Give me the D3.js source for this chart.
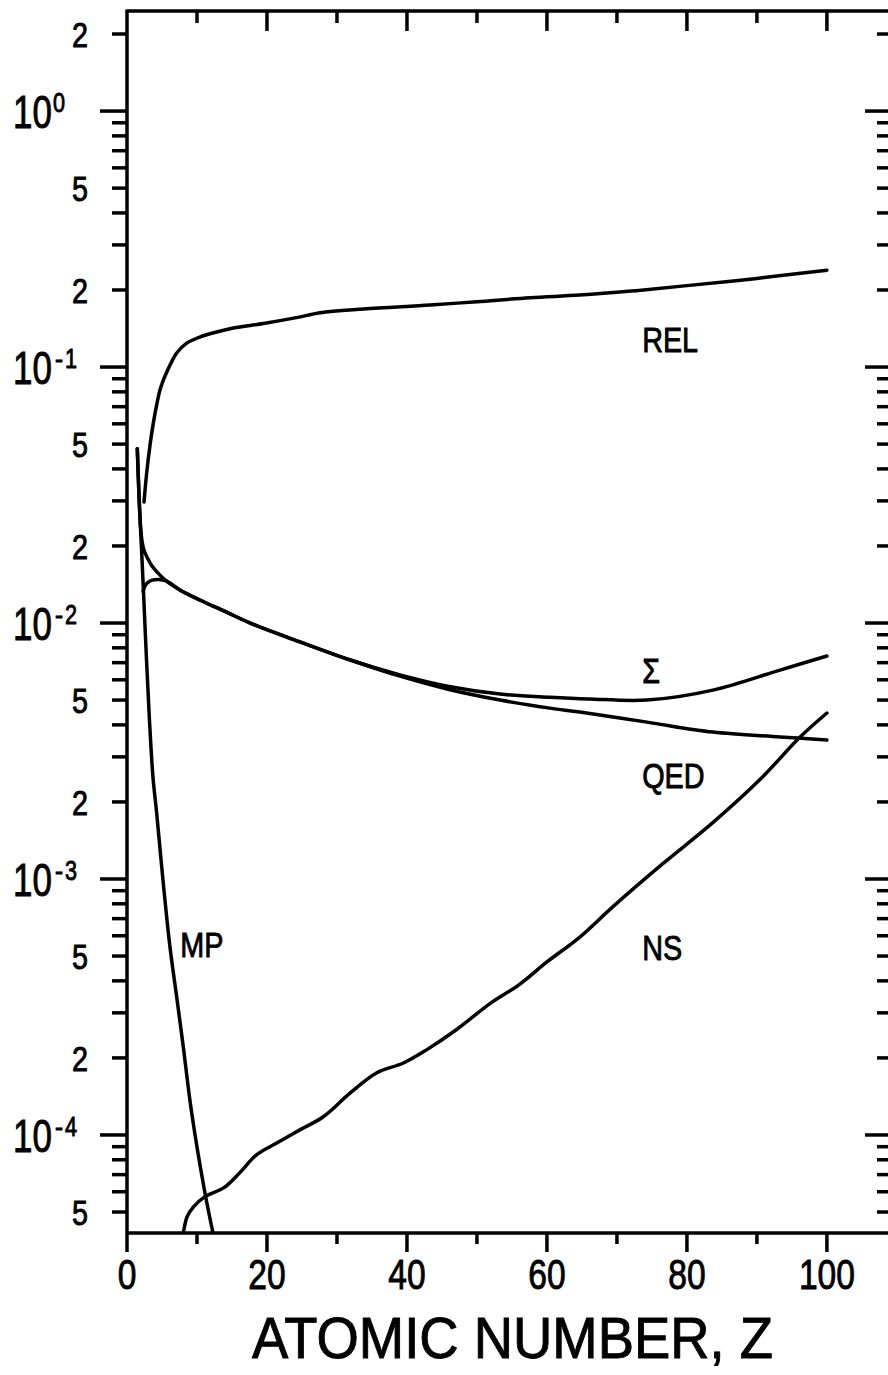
<!DOCTYPE html>
<html>
<head>
<meta charset="utf-8">
<script src="https://cdn.jsdelivr.net/npm/d3@7/dist/d3.min.js"></script>
<style>
  html, body { margin: 0; padding: 0; background: #fff; }
  svg { display: block; }
  text { font-family: "Liberation Sans", Arial, sans-serif; fill: #000; }
</style>
</head>
<body>
<div id="chart"></div>
<script>
// ---------------- data ----------------
const relZ = [2.43, 2.81, 3.29, 3.76, 4.29, 4.71, 5.19, 5.67, 6.43, 7.1, 8.53, 10.4, 12.8, 15.2, 19.5, 24.2, 27.6, 33.8, 43.3, 50, 57.6, 64.7, 72, 80, 90, 100];
const relV = [0.0297, 0.0385, 0.0496, 0.0604, 0.0723, 0.0813, 0.0889, 0.0955, 0.1055, 0.1135, 0.124, 0.131, 0.137, 0.142, 0.148, 0.156, 0.163, 0.1685, 0.1747, 0.180, 0.1866, 0.191, 0.198, 0.208, 0.222, 0.239];

const sigZ = [1.47, 1.76, 1.95, 2.2, 2.5, 2.9, 3.5, 4.3, 5.6, 7.5, 10.4, 14, 17.6, 24.7, 31.9, 39, 46, 53.3, 60.4, 66, 74.3, 83.7, 93.3, 100];
const sigV = [0.048, 0.0294, 0.0235, 0.0205, 0.0190, 0.0180, 0.0168, 0.0158, 0.0146, 0.0135, 0.0123, 0.0111, 0.0100, 0.00844, 0.00717, 0.00627, 0.00565, 0.00528, 0.00513, 0.00505, 0.0050, 0.00547, 0.00655, 0.00743];

const qedZ = [2.3, 2.6, 3.0, 3.6, 4.5, 5.6, 7.5, 10.4, 14, 17.6, 24.7, 31.9, 39, 46, 53.3, 60.4, 64.7, 74.3, 83.7, 93.3, 100];
const qedV = [0.0133, 0.0140, 0.0144, 0.0147, 0.0148, 0.0146, 0.0135, 0.0123, 0.0111, 0.0100, 0.00844, 0.00717, 0.0062, 0.0055, 0.0050, 0.00465, 0.00449, 0.0041, 0.00375, 0.00359, 0.00349];

const nsZ = [8.05, 8.6, 9.5, 11.1, 13.8, 16.1, 18.5, 21.4, 24.7, 28, 31.9, 35.7, 39.5, 42.8, 47, 52, 56, 60, 64.7, 69.4, 76.6, 83.7, 90.4, 96.1, 100];
const nsV = [4.14e-5, 4.8e-5, 5.24e-5, 5.73e-5, 6.21e-5, 7.11e-5, 8.36e-5, 9.3e-5, 1.047e-4, 1.175e-4, 1.46e-4, 1.75e-4, 1.91e-4, 2.15e-4, 2.57e-4, 3.28e-4, 3.86e-4, 4.74e-4, 5.93e-4, 7.78e-4, 1.15e-3, 1.66e-3, 2.44e-3, 3.57e-3, 4.45e-3];

const mpZ = [1.47, 1.76, 2.07, 2.36, 2.79, 3.21, 3.71, 4.24, 5.14, 6.14, 7.1, 8.04, 9.24, 11.14, 12.29];
const mpV = [0.048, 0.0294, 0.0196, 0.0132, 0.00717, 0.00418, 0.0025, 0.00181, 0.00099, 0.000542, 0.000346, 0.000221, 0.000122, 0.0000593, 0.0000414];

const curveNames = ["REL", "\u03A3", "QED", "NS", "MP"];
const curveLabelZ = [73.6, 73.6, 73.6, 73.6, 7.6];
const curveLabelV = [0.1145, 0.00583, 0.00227, 4.83e-4, 4.96e-4];

const xTickValues = [0, 10, 20, 30, 40, 50, 60, 70, 80, 90, 100];
const xLabelValues = [0, 20, 40, 60, 80, 100];
const xLabels = ["0", "20", "40", "60", "80", "100"];

const yDecades = [1, 1e-1, 1e-2, 1e-3, 1e-4];
const yDecadeExp = ["0", "-1", "-2", "-3", "-4"];
const yMidValues = [2, 0.5, 0.2, 0.05, 0.02, 0.005, 0.002, 5e-4, 2e-4, 5e-5];
const yMidLabels = ["2", "5", "2", "5", "2", "5", "2", "5", "2", "5"];

const xTitle = "ATOMIC NUMBER, Z";

// ---------------- layout ----------------
const W = 888, H = 1375;
const mLeft = 127, mRight = 892, mTop = 11, mBottom = 1233;
const zMax = 109.3;
const yMin = 4.14e-5, yMax = 2.46;

const svg = d3.select("#chart").append("svg").attr("width", W).attr("height", H);

const x = d3.scaleLinear().domain([0, zMax]).range([mLeft, mRight]);
const y = d3.scaleLog().domain([yMin, yMax]).range([mBottom, mTop]);

const SW = 3.5;
const axisG = svg.append("g").attr("stroke", "#000").attr("stroke-width", SW).attr("stroke-linecap", "butt");

// frame
axisG.append("line").attr("x1", mLeft).attr("x2", mLeft).attr("y1", mTop - 1.5).attr("y2", mBottom + 19);
axisG.append("line").attr("x1", mLeft).attr("x2", mRight).attr("y1", mTop).attr("y2", mTop);
axisG.append("line").attr("x1", mLeft).attr("x2", mRight).attr("y1", mBottom).attr("y2", mBottom);
axisG.append("line").attr("x1", mRight).attr("x2", mRight).attr("y1", mTop).attr("y2", mBottom);

// x ticks (bottom outward, top inward)
xTickValues.forEach(v => {
  if (v === 0) return;
  const major = v % 20 === 0;
  axisG.append("line").attr("x1", x(v)).attr("x2", x(v)).attr("y1", mBottom).attr("y2", mBottom + (major ? 19 : 11));
  axisG.append("line").attr("x1", x(v)).attr("x2", x(v)).attr("y1", mTop).attr("y2", mTop + (major ? 20 : 12));
});

// y ticks: decades major, others minor (left outward, right inward)
const yMinor = [];
for (let d = -5; d <= 0; d++) {
  for (let k = 2; k <= 9; k++) {
    const v = k * Math.pow(10, d);
    if (v >= yMin && v <= yMax) yMinor.push(v);
  }
}
yDecades.forEach(v => {
  axisG.append("line").attr("x1", mLeft - 27).attr("x2", mLeft).attr("y1", y(v)).attr("y2", y(v));
  axisG.append("line").attr("x1", mRight - 27).attr("x2", mRight).attr("y1", y(v)).attr("y2", y(v));
});
yMinor.forEach(v => {
  axisG.append("line").attr("x1", mLeft - 15).attr("x2", mLeft).attr("y1", y(v)).attr("y2", y(v));
  axisG.append("line").attr("x1", mRight - 15).attr("x2", mRight).attr("y1", y(v)).attr("y2", y(v));
});

// text helper with horizontal condensing
function label(str, px, py, size, anchor, sx) {
  return svg.append("text")
    .attr("transform", `translate(${px},${py}) scale(${sx},1)`)
    .attr("text-anchor", anchor)
    .attr("font-size", size)
    .attr("stroke", "#000").attr("stroke-width", 0.9)
    .text(str);
}

// x tick labels
xLabelValues.forEach((v, i) => label(xLabels[i], x(v), 1289, 42, "middle", 0.8));

// y labels
yMidValues.forEach((v, i) => label(yMidLabels[i], 88, y(v) + 13, 36, "end", 0.8));
yDecades.forEach((v, i) => {
  label("10", 13, y(v) + 17, 46, "start", 0.76);
  const e = yDecadeExp[i];
  if (e[0] === "-") {
    label("-", 55, y(v) + 1, 27, "start", 0.9);
    label(e.slice(1), 65, y(v) + 1, 27, "start", 0.8);
  } else {
    label(e, 53, y(v) + 1, 27, "start", 0.8);
  }
});

// x title
svg.append("text")
  .attr("x", 252).attr("y", 1358)
  .attr("font-size", 57)
  .attr("textLength", 521).attr("lengthAdjust", "spacingAndGlyphs")
  .attr("stroke", "#000").attr("stroke-width", 0.9)
  .text(xTitle);

// curves
svg.append("clipPath").attr("id", "plotclip").append("rect")
  .attr("x", mLeft).attr("y", mTop).attr("width", mRight - mLeft).attr("height", mBottom - mTop);

const line = d3.line().x(d => x(d[0])).y(d => y(d[1])).curve(d3.curveCatmullRom.alpha(0.5));
const series = [[relZ, relV], [sigZ, sigV], [qedZ, qedV], [nsZ, nsV], [mpZ, mpV]];
const curveG = svg.append("g").attr("clip-path", "url(#plotclip)");
series.forEach(([zs, vs]) => {
  curveG.append("path")
    .attr("d", line(zs.map((z, i) => [z, vs[i]])))
    .attr("fill", "none").attr("stroke", "#000")
    .attr("stroke-width", SW).attr("stroke-linecap", "round").attr("stroke-linejoin", "round");
});

// curve labels
curveNames.forEach((n, i) => label(n, x(curveLabelZ[i]), y(curveLabelV[i]), 36, "start", 0.8));
</script>
</body>
</html>
